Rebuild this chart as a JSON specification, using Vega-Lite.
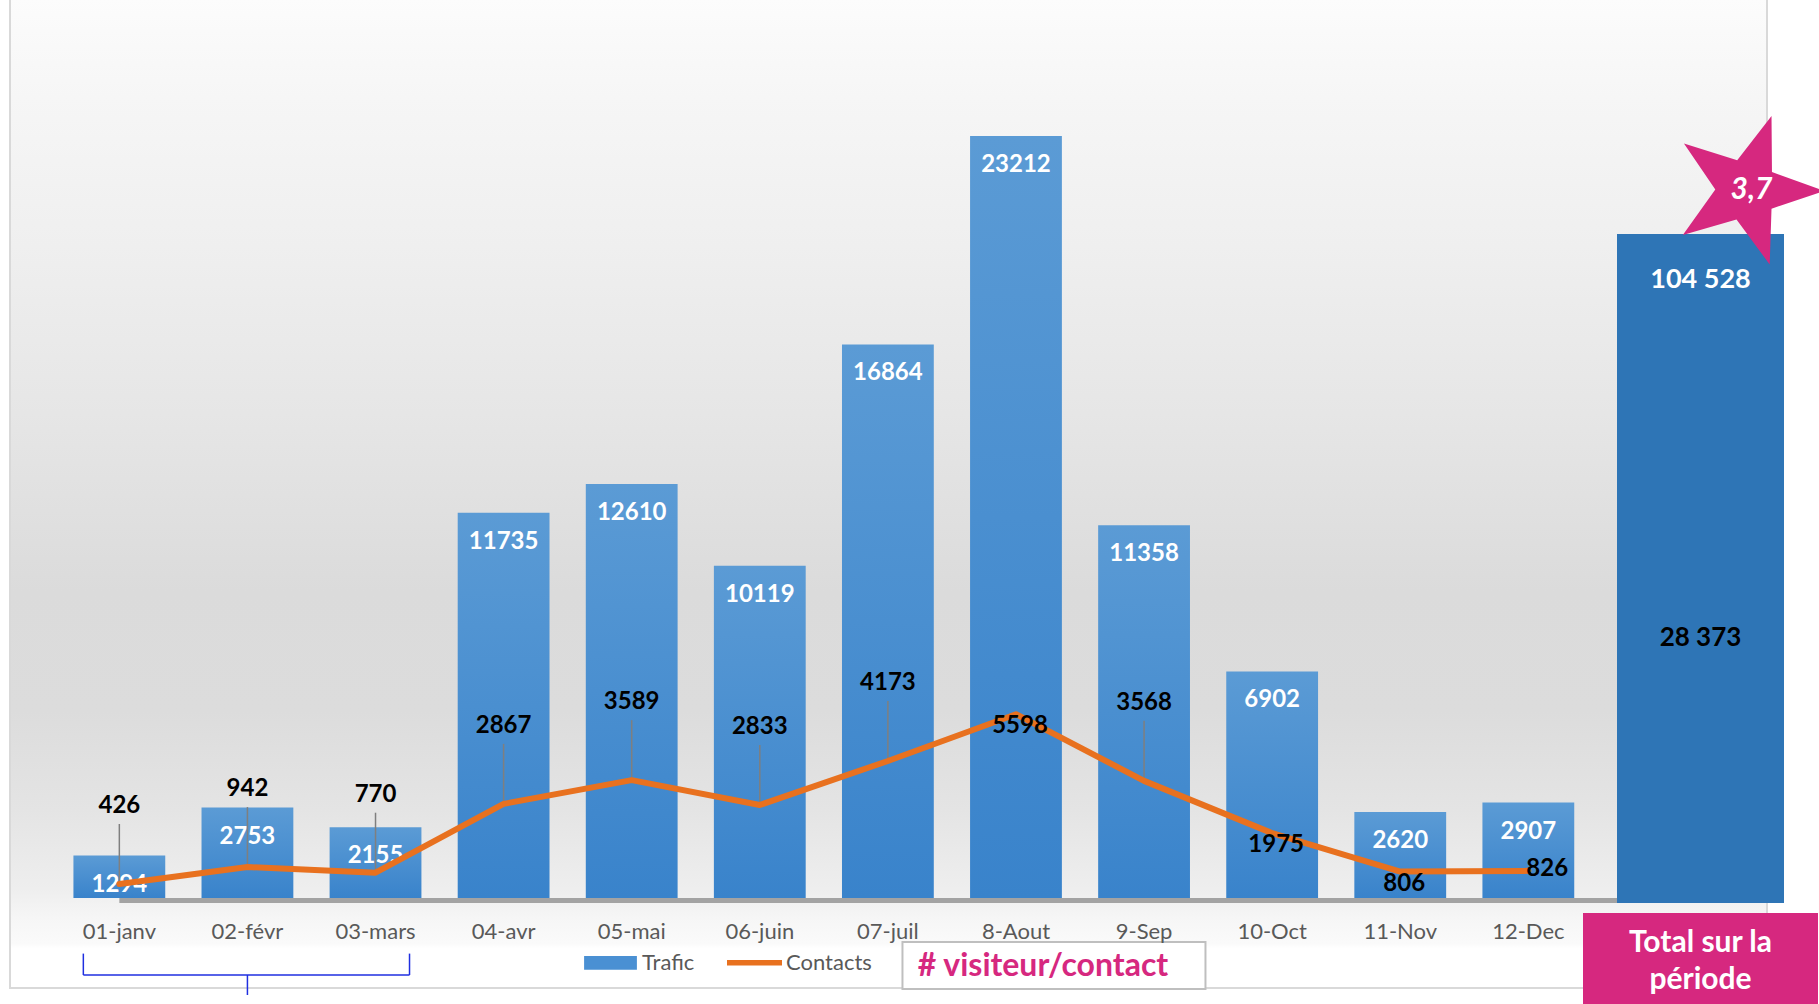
{
  "$schema": "https://vega.github.io/schema/vega-lite/v6.json",
  "width": 1757,
  "height": 990,
  "autosize": {"type": "none"},
  "padding": {"left": 10, "top": -2, "right": 52, "bottom": 16},
  "background": "#ffffff",
  "config": {
    "font": "Lato",
    "view": {
      "stroke": "#d9d9d9",
      "strokeWidth": 2,
      "fill": {
        "gradient": "linear", "x1": 0, "y1": 0, "x2": 0, "y2": 1,
        "stops": [
          {"offset": 0, "color": "#fcfcfc"},
          {"offset": 0.1, "color": "#f6f6f6"},
          {"offset": 0.25, "color": "#efefef"},
          {"offset": 0.42, "color": "#e6e6e6"},
          {"offset": 0.6, "color": "#dbdbdb"},
          {"offset": 0.72, "color": "#dcdcdc"},
          {"offset": 0.82, "color": "#e4e4e4"},
          {"offset": 0.9, "color": "#eeeeee"},
          {"offset": 0.93, "color": "#f6f6f6"},
          {"offset": 0.955, "color": "#fafafa"},
          {"offset": 0.96, "color": "#ffffff"},
          {"offset": 1, "color": "#ffffff"}
        ]
      }
    },
    "locale": {"number": {"decimal": ",", "thousands": " ", "grouping": [3], "currency": ["", " €"]}}
  },
  "datasets": {
    "mois": [
      {"mois": "01-janv", "trafic": 1294, "contacts": 426},
      {"mois": "02-févr", "trafic": 2753, "contacts": 942},
      {"mois": "03-mars", "trafic": 2155, "contacts": 770},
      {"mois": "04-avr", "trafic": 11735, "contacts": 2867},
      {"mois": "05-mai", "trafic": 12610, "contacts": 3589},
      {"mois": "06-juin", "trafic": 10119, "contacts": 2833},
      {"mois": "07-juil", "trafic": 16864, "contacts": 4173},
      {"mois": "8-Aout", "trafic": 23212, "contacts": 5598},
      {"mois": "9-Sep", "trafic": 11358, "contacts": 3568},
      {"mois": "10-Oct", "trafic": 6902, "contacts": 1975},
      {"mois": "11-Nov", "trafic": 2620, "contacts": 806},
      {"mois": "12-Dec", "trafic": 2907, "contacts": 826}
    ],
    "total": [
      {"libelle": "Total", "titre": "Total sur la\npériode", "trafic": 104528, "contacts": 28373, "ratio": 3.7}
    ]
  },
  "resolve": {"scale": {"x": "independent", "y": "independent"}},
  "layer": [
    {
      "data": {"name": "mois"},
      "layer": [
        {
          "mark": {
            "type": "bar",
            "color": {
              "gradient": "linear", "x1": 0, "y1": 0, "x2": 0, "y2": 1,
              "stops": [{"offset": 0, "color": "#5b9bd5"}, {"offset": 1, "color": "#3983cb"}]
            }
          },
          "encoding": {
            "x": {
              "field": "mois", "type": "nominal", "sort": null,
              "scale": {
                "domain": ["01-janv", "02-févr", "03-mars", "04-avr", "05-mai", "06-juin", "07-juil", "8-Aout", "9-Sep", "10-Oct", "11-Nov", "12-Dec"],
                "paddingInner": 0.2832, "paddingOuter": 1.061, "align": 0.2476
              },
              "axis": {
                "orient": "bottom",
                "title": null, "domain": false, "ticks": false, "grid": false, "labelAngle": 0,
                "labelFontSize": 22, "labelColor": "#595959", "labelFont": "Lato",
                "labelBaseline": "middle", "labelPadding": -57, "zindex": 2
              }
            },
            "y": {
              "field": "trafic", "type": "quantitative",
              "scale": {"domain": [-2742, 27416], "nice": false},
              "axis": null
            }
          }
        },
        {
          "data": {"values": [{}]},
          "mark": {"type": "rule", "color": "#a3a3a3", "strokeWidth": 5, "x2Offset": 97, "yOffset": 2.5},
          "encoding": {
            "x": {"datum": "01-janv", "type": "nominal"},
            "x2": {"datum": "12-Dec"},
            "y": {"datum": 0, "type": "quantitative"}
          }
        },
        {
          "mark": {"type": "text", "color": "#ffffff", "fontWeight": "bold", "fontSize": 24, "baseline": "middle", "dy": 29},
          "encoding": {
            "x": {"field": "mois", "type": "nominal"},
            "y": {"field": "trafic", "type": "quantitative"},
            "text": {"field": "trafic", "type": "quantitative", "format": "d"}
          }
        },
        {
          "transform": [{"filter": {"not": {"field": "mois", "oneOf": ["8-Aout", "10-Oct", "11-Nov", "12-Dec"]}}}],
          "mark": {"type": "rule", "color": "#7f7f7f", "strokeWidth": 1.5, "y2Offset": -60},
          "encoding": {
            "x": {"field": "mois", "type": "nominal"},
            "y": {"field": "contacts", "type": "quantitative"},
            "y2": {"field": "contacts"}
          }
        },
        {
          "mark": {"type": "line", "strokeWidth": 6, "strokeJoin": "round", "strokeCap": "round"},
          "encoding": {
            "x": {"field": "mois", "type": "nominal"},
            "y": {"field": "contacts", "type": "quantitative"},
            "color": {
              "datum": "Contacts",
              "scale": {"domain": ["Trafic", "Contacts"], "range": ["#4a90d3", "#e8711f"]},
              "legend": {
                "title": null, "orient": "none", "legendX": 573, "legendY": 937, "direction": "horizontal",
                "padding": 0, "symbolSize": 3025, "labelFontSize": 22, "labelColor": "#595959", "labelFont": "Lato",
                "labelOffset": 4, "columnPadding": 32, "symbolStrokeWidth": 0, "zindex": 2,
                "encode": {
                  "symbols": {
                    "update": {
                      "shape": {"signal": "datum.value === 'Trafic' ? 'M-0.96,-0.25H0.96V0.25H-0.96Z' : 'M-1,-0.1H1V0.1H-1Z'"},
                      "fill": {"signal": "scale('color', datum.value)"},
                      "stroke": {"value": "transparent"}
                    }
                  }
                }
              }
            }
          }
        },
        {
          "transform": [{"filter": {"not": {"field": "mois", "oneOf": ["8-Aout", "10-Oct", "11-Nov", "12-Dec"]}}}],
          "mark": {"type": "text", "color": "#000000", "fontWeight": "bold", "fontSize": 24, "baseline": "middle", "dy": -78},
          "encoding": {
            "x": {"field": "mois", "type": "nominal"},
            "y": {"field": "contacts", "type": "quantitative"},
            "text": {"field": "contacts", "type": "quantitative", "format": "d"}
          }
        },
        {
          "transform": [{"filter": {"field": "mois", "oneOf": ["8-Aout", "10-Oct", "11-Nov"]}}],
          "mark": {"type": "text", "color": "#000000", "fontWeight": "bold", "fontSize": 24, "baseline": "middle", "dx": 4, "dy": 12},
          "encoding": {
            "x": {"field": "mois", "type": "nominal"},
            "y": {"field": "contacts", "type": "quantitative"},
            "text": {"field": "contacts", "type": "quantitative", "format": "d"}
          }
        },
        {
          "transform": [{"filter": {"field": "mois", "oneOf": ["12-Dec"]}}],
          "mark": {"type": "text", "color": "#000000", "fontWeight": "bold", "fontSize": 24, "baseline": "middle", "align": "left", "dx": -2, "dy": -2},
          "encoding": {
            "x": {"field": "mois", "type": "nominal"},
            "y": {"field": "contacts", "type": "quantitative"},
            "text": {"field": "contacts", "type": "quantitative", "format": "d"}
          }
        },
        {
          "data": {"values": [{}]},
          "mark": {"type": "bar", "width": 303, "xOffset": 38, "fill": "#ffffff", "stroke": "#bfbfbf", "strokeWidth": 2},
          "encoding": {
            "x": {"datum": "8-Aout", "type": "nominal"},
            "y": {"datum": -1340, "type": "quantitative"},
            "y2": {"datum": -2772}
          }
        },
        {
          "data": {"values": [{}]},
          "mark": {"type": "text", "color": "#d6287f", "fontWeight": "bold", "fontSize": 32, "baseline": "middle", "xOffset": 27},
          "encoding": {
            "x": {"datum": "8-Aout", "type": "nominal"},
            "y": {"datum": -2071, "type": "quantitative"},
            "text": {"value": "# visiteur/contact"}
          }
        },
        {
          "data": {"values": [{}]},
          "mark": {"type": "rule", "color": "#1f2fe0", "strokeWidth": 1.5, "xOffset": -36, "x2Offset": 34},
          "encoding": {
            "x": {"datum": "01-janv", "type": "nominal"},
            "x2": {"datum": "03-mars"},
            "y": {"datum": -2346, "type": "quantitative"}
          }
        },
        {
          "data": {"values": [{}]},
          "mark": {"type": "rule", "color": "#1f2fe0", "strokeWidth": 1.5, "xOffset": -36},
          "encoding": {
            "x": {"datum": "01-janv", "type": "nominal"},
            "y": {"datum": -1694, "type": "quantitative"},
            "y2": {"datum": -2346}
          }
        },
        {
          "data": {"values": [{}]},
          "mark": {"type": "rule", "color": "#1f2fe0", "strokeWidth": 1.5, "xOffset": 34},
          "encoding": {
            "x": {"datum": "03-mars", "type": "nominal"},
            "y": {"datum": -1694, "type": "quantitative"},
            "y2": {"datum": -2346}
          }
        },
        {
          "data": {"values": [{}]},
          "mark": {"type": "rule", "color": "#1f2fe0", "strokeWidth": 1.5},
          "encoding": {
            "x": {"datum": "02-févr", "type": "nominal"},
            "y": {"datum": -2346, "type": "quantitative"},
            "y2": {"datum": -2955}
          }
        }
      ]
    },
    {
      "data": {"name": "total"},
      "encoding": {
        "x": {"field": "libelle", "type": "nominal", "axis": null, "scale": {"range": [1607, 1774], "paddingInner": 0, "paddingOuter": 0}},
        "y": {"field": "trafic", "type": "quantitative", "axis": null, "scale": {"domain": [-13281, 141402], "nice": false}}
      },
      "layer": [
        {"mark": {"type": "bar", "color": "#2e75b6"}},
        {
          "mark": {"type": "text", "color": "#ffffff", "fontWeight": "bold", "fontSize": 27, "baseline": "middle", "dy": 46},
          "encoding": {"text": {"field": "trafic", "type": "quantitative", "format": ",d"}}
        },
        {
          "mark": {"type": "text", "color": "#000000", "fontWeight": "bold", "fontSize": 26, "baseline": "middle", "dy": 404},
          "encoding": {"text": {"field": "contacts", "type": "quantitative", "format": ",d"}}
        },
        {
          "mark": {"type": "bar", "color": "#d6287f", "width": 235},
          "encoding": {"y": {"datum": -1562, "type": "quantitative"}, "y2": {"datum": -15781}}
        },
        {
          "mark": {"type": "text", "color": "#ffffff", "fontWeight": "bold", "fontSize": 30, "lineBreak": "\n", "lineHeight": 37, "baseline": "middle"},
          "encoding": {"y": {"datum": -6172, "type": "quantitative"}, "text": {"field": "titre"}}
        },
        {
          "mark": {
            "type": "point", "filled": true, "opacity": 1, "color": "#d6287f", "size": 24336, "angle": 18.7,
            "xOffset": 46, "yOffset": -44,
            "shape": "M0,-1L0.2351,-0.3236L0.9511,-0.309L0.3804,0.1236L0.5878,0.809L0,0.4L-0.5878,0.809L-0.3804,0.1236L-0.9511,-0.309L-0.2351,-0.3236Z"
          }
        },
        {
          "mark": {"type": "text", "color": "#ffffff", "fontWeight": "bold", "fontStyle": "italic", "fontSize": 30, "baseline": "middle", "xOffset": 51, "yOffset": -44},
          "encoding": {"text": {"field": "ratio", "type": "quantitative", "format": ".1f"}}
        }
      ]
    }
  ]
}
